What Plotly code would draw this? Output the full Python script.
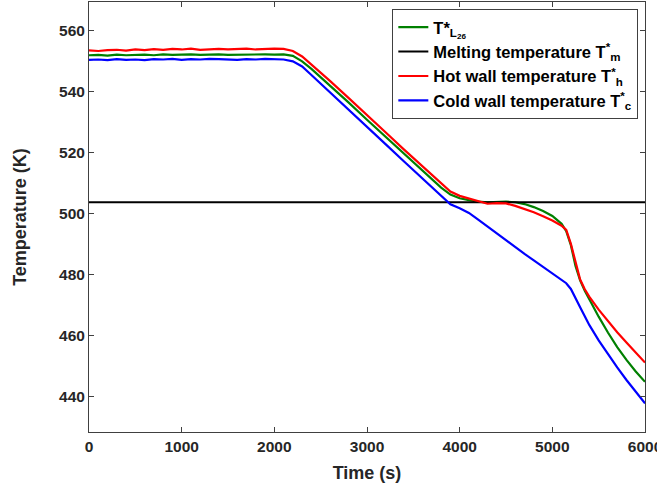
import plotly.graph_objects as go

# Sampling times (s)
time_s = [0, 100, 200, 300, 400, 500, 600, 700, 800, 900, 1000,
          1100, 1200, 1300, 1400, 1500, 1600, 1700, 1800, 1900, 2000, 2100,
          2200, 2300, 2400, 2600, 2800, 3000, 3200, 3400, 3600, 3800,
          3900, 4000, 4100, 4200, 4300, 4400, 4500, 4600, 4700, 4800,
          4900, 5000, 5100, 5150, 5200, 5250, 5300, 5350,
          5400, 5500, 5600, 5700, 5800, 5900, 6000]

# Temperature at level L26 (K)
t_l26 = [552.0, 552.1, 551.9, 552.2, 552.0, 552.1, 552.2, 552.0, 552.3, 552.1, 552.2,
         552.3, 552.1, 552.2, 552.3, 552.1, 552.2, 552.3, 552.2, 552.3, 552.2, 552.3,
         551.8, 550.0, 547.5, 542.1, 536.5, 530.8, 525.2, 519.6, 514.0, 508.5,
         506.2, 505.0, 504.4, 503.9, 503.7, 503.8, 503.9, 503.7, 503.1, 502.1,
         500.8, 499.2, 496.6, 494.2, 489.6, 482.8, 478.0, 474.6,
         471.6, 466.1, 460.9, 456.1, 451.9, 448.1, 444.7]

# Hot wall temperature (K)
t_hot = [553.6, 553.4, 553.7, 553.8, 553.5, 553.9, 553.7, 554.0, 553.8, 554.1, 553.9,
         554.2, 553.8, 554.0, 554.1, 553.9, 554.0, 554.2, 553.9, 554.1, 554.2, 554.1,
         553.4, 551.6, 549.0, 543.6, 538.0, 532.2, 526.7, 521.0, 515.4, 509.8,
         507.2, 505.8, 504.9, 504.0, 503.2, 503.4, 503.3, 502.5, 501.5, 500.4,
         499.1, 497.7, 496.0, 494.6, 490.0, 484.0, 478.3, 475.1,
         472.6, 468.4, 464.6, 461.0, 457.6, 454.3, 451.0]

# Cold wall temperature (K)
t_cold = [550.5, 550.6, 550.4, 550.7, 550.5, 550.6, 550.4, 550.7, 550.6, 550.8, 550.5,
          550.7, 550.6, 550.8, 550.7, 550.6, 550.5, 550.7, 550.6, 550.8, 550.7, 550.6,
          550.0, 548.3, 545.5, 539.9, 534.2, 528.5, 522.8, 517.1, 511.4, 505.7,
          503.0, 501.7, 500.2, 498.0, 495.7, 493.4, 491.1, 488.9, 486.7, 484.6,
          482.5, 480.4, 478.3, 477.1, 475.2, 472.4, 469.2, 466.2,
          463.3, 458.3, 453.7, 449.4, 445.3, 441.4, 437.6]

# Melting temperature (K)
t_melt = 503.7
melt_x = [0, 6000]

x_ticks = [0, 1000, 2000, 3000, 4000, 5000, 6000]
y_ticks = [440, 460, 480, 500, 520, 540, 560]

font_family = "Liberation Sans"
text_color = "#262626"

fig = go.Figure()
fig.add_trace(go.Scatter(x=time_s, y=t_l26, mode="lines",
                         line=dict(color="#008000", width=2.2),
                         name="T*<sub>L<sub>26</sub></sub>"))
fig.add_trace(go.Scatter(x=melt_x, y=[t_melt, t_melt], mode="lines",
                         line=dict(color="#000000", width=2),
                         name="Melting temperature T<sup>*</sup><sub>m</sub>"))
fig.add_trace(go.Scatter(x=time_s, y=t_hot, mode="lines",
                         line=dict(color="#ff0000", width=2.2),
                         name="Hot wall temperature T<sup>*</sup><sub>h</sub>"))
fig.add_trace(go.Scatter(x=time_s, y=t_cold, mode="lines",
                         line=dict(color="#0000ff", width=2.2),
                         name="Cold wall temperature T<sup>*</sup><sub>c</sub>"))

axis_common = dict(
    showgrid=False, zeroline=False, automargin=False,
    showline=True, linecolor="#404040", linewidth=1, mirror="ticks",
    ticks="inside", ticklen=5, tickcolor="#404040", tickwidth=1,
    ticklabeloverflow="allow",
    tickfont=dict(family=font_family, size=15.5, color=text_color, weight="bold"),
)

fig.update_layout(
    width=657, height=490,
    margin=dict(l=89, r=12, t=2, b=58),
    paper_bgcolor="white", plot_bgcolor="white",
    font=dict(family=font_family, color=text_color),
    xaxis=dict(range=[0, 6000], tickvals=x_ticks,
               title=dict(text="Time (s)", standoff=12,
                          font=dict(family=font_family, size=18, color=text_color, weight="bold")),
               **axis_common),
    yaxis=dict(range=[428.2, 569.5], tickvals=y_ticks,
               title=dict(text="Temperature (K)", standoff=27,
                          font=dict(family=font_family, size=18, color=text_color, weight="bold")),
               **axis_common),
    legend=dict(x=0.988, xanchor="right", y=0.984, yanchor="top",
                bgcolor="white", bordercolor="#404040", borderwidth=1,
                font=dict(family=font_family, size=16.5, color="#000000", weight="bold"),
                itemwidth=30, tracegroupgap=0),
    showlegend=True,
)

fig.write_html("out.html")
